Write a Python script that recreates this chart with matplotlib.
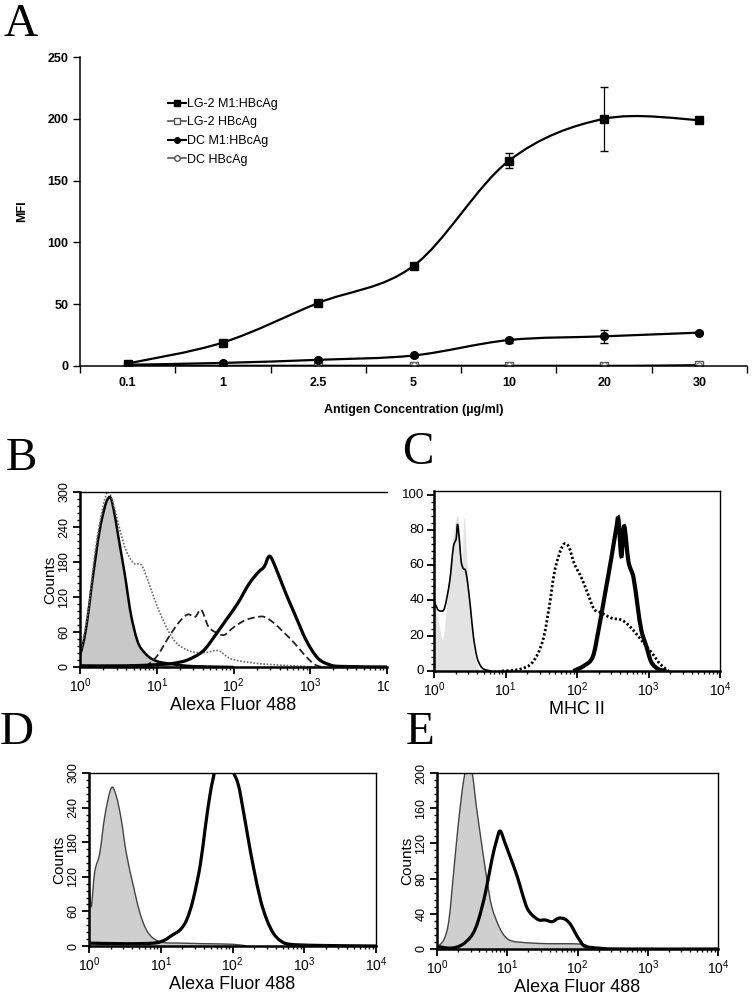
import matplotlib
matplotlib.use("Agg")
import matplotlib.pyplot as plt
import numpy as np
from matplotlib.path import Path
from matplotlib.patches import PathPatch
from matplotlib.lines import Line2D
from matplotlib.ticker import AutoMinorLocator, FixedLocator
from matplotlib.transforms import Bbox, TransformedBbox

plt.rcParams['font.family'] = ['Liberation Sans', 'DejaVu Sans']
plt.rcParams['mathtext.fontset'] = 'custom'
plt.rcParams['mathtext.rm'] = 'Liberation Sans'
plt.rcParams['mathtext.it'] = 'Liberation Sans:italic'
plt.rcParams['mathtext.bf'] = 'Liberation Sans:bold'

# ---------- panel A data ----------
conc_labels = ['0.1', '1', '2.5', '5', '10', '20', '30']
lg2_m1 = [2, 19, 51, 81, 166, 200, 199]
lg2_m1_err = [1, 1.5, 1.5, 2, 6, 26, 2]
lg2_hbc = [0, 0, 0, 0, 0, 0, 1]
dc_m1 = [1, 2.5, 5, 8.5, 21, 24, 27]
dc_m1_err = [0.5, 0.5, 1, 1, 2, 5, 1.5]
dc_hbc = [0.5, 0.5, 0.5, 0.5, 0.5, 0.5, 0.5]

# ---------- flow data (x as log10 of intensity, y counts) ----------
b_iso_x = [0.0, 0.05, 0.1, 0.15, 0.2, 0.25, 0.3, 0.35, 0.4, 0.45, 0.5, 0.55, 0.6, 0.65, 0.7, 0.75, 0.8, 0.9, 1.0, 1.1, 1.25, 1.4, 1.6, 2.0]
b_iso_y = [20, 45, 85, 137, 185, 230, 262, 285, 290, 262, 223, 185, 145, 100, 68, 44, 31, 17, 10, 7, 4, 2, 1, 0]
b_pos_x = [0.0, 0.6, 1.0, 1.2, 1.4, 1.6, 1.75, 1.9, 2.05, 2.2, 2.32, 2.4, 2.47, 2.55, 2.67, 2.8, 2.95, 3.1, 3.25, 3.4, 4.0]
b_pos_y = [2, 2, 4, 6, 12, 27, 52, 80, 108, 142, 162, 172, 190, 170, 130, 90, 45, 15, 4, 1, 0]
b_dot_x = [0.0, 0.1, 0.2, 0.3, 0.37, 0.45, 0.52, 0.6, 0.7, 0.8, 0.88, 0.96, 1.05, 1.15, 1.25, 1.38, 1.5, 1.65, 1.8, 1.95, 2.1, 2.4, 2.8, 3.2, 4.0]
b_dot_y = [20, 90, 200, 275, 300, 272, 235, 200, 178, 175, 150, 120, 90, 62, 42, 30, 25, 25, 28, 15, 10, 5, 2, 0, 0]
b_dash_x = [0.85, 1.0, 1.15, 1.28, 1.4, 1.5, 1.58, 1.67, 1.76, 1.88, 2.0, 2.15, 2.28, 2.4, 2.52, 2.65, 2.8, 2.93, 3.05, 3.15]
b_dash_y = [0, 18, 50, 75, 90, 86, 98, 70, 60, 55, 68, 80, 85, 86, 76, 60, 40, 20, 5, 0]

c_iso_x = [0.0, 0.06, 0.13, 0.2, 0.27, 0.33, 0.36, 0.39, 0.43, 0.47, 0.52, 0.58, 0.64]
c_iso_y = [42, 30, 18, 45, 75, 88, 80, 60, 87, 60, 30, 8, 0]
c_thin_x = [0.0, 0.05, 0.1, 0.15, 0.22, 0.27, 0.31, 0.33, 0.36, 0.38, 0.41, 0.44, 0.47, 0.51, 0.55, 0.6, 0.65, 0.7, 0.8]
c_thin_y = [40, 35, 34, 36, 51, 70, 75, 83, 72, 62, 58, 57, 50, 36, 20, 8, 3, 1, 0]
c_dot_x = [0.95, 1.2, 1.38, 1.52, 1.61, 1.68, 1.75, 1.82, 1.89, 1.96, 2.06, 2.15, 2.24, 2.34, 2.48, 2.62, 2.72, 2.83, 2.97, 3.07, 3.16, 3.28]
c_dot_y = [0, 1, 5, 17, 36, 55, 66, 72, 70, 61, 53, 44, 35, 33, 30, 29, 26, 21, 14, 9, 4, 0]
c_pos_x = [1.95, 2.1, 2.22, 2.3, 2.38, 2.48, 2.55, 2.58, 2.62, 2.66, 2.72, 2.79, 2.85, 2.9, 2.97, 3.04, 3.14, 3.25]
c_pos_y = [0, 3, 8, 23, 41, 64, 81, 86, 65, 82, 62, 53, 36, 23, 14, 5, 1, 0]

d_iso_x = [0.0, 0.03, 0.08, 0.15, 0.22, 0.31, 0.38, 0.45, 0.52, 0.62, 0.71, 0.8, 0.9, 1.04, 1.3, 1.6, 2.0, 2.2]
d_iso_y = [120, 68, 129, 161, 225, 274, 260, 219, 161, 103, 57, 28, 13, 6, 5, 4, 3, 0]
d_pos_x = [0.0, 0.5, 0.9, 1.05, 1.15, 1.27, 1.36, 1.45, 1.55, 1.62, 1.69, 1.76, 1.82, 1.9, 1.99, 2.08, 2.15, 2.22, 2.29, 2.39, 2.48, 2.57, 2.67, 2.8, 3.2, 4.0]
d_pos_y = [5, 4, 5, 10, 18, 28, 45, 80, 140, 205, 265, 305, 310, 310, 305, 280, 235, 185, 138, 80, 45, 22, 9, 3, 1, 0]

e_iso_x = [0.0, 0.1, 0.17, 0.24, 0.31, 0.38, 0.43, 0.5, 0.56, 0.64, 0.71, 0.78, 0.88, 0.97, 1.07, 1.3, 1.6, 1.9, 2.1, 2.2]
e_iso_y = [2, 11, 33, 90, 147, 192, 205, 200, 162, 117, 79, 48, 26, 14, 9, 7, 6, 6, 5, 0]
e_pos_x = [0.0, 0.2, 0.36, 0.5, 0.59, 0.69, 0.78, 0.85, 0.9, 0.97, 1.04, 1.14, 1.21, 1.28, 1.35, 1.45, 1.54, 1.64, 1.73, 1.82, 1.9, 1.97, 2.04, 2.11, 2.3, 2.6, 4.0]
e_pos_y = [3, 1, 5, 16, 33, 64, 101, 124, 134, 120, 105, 83, 64, 47, 39, 33, 33, 31, 35, 34, 28, 18, 9, 3, 1, 0, 0]

W, H = 754, 998
fig = plt.figure(figsize=(W / 100, H / 100), dpi=100)


def add_ax(l, t, r, b):
    return fig.add_axes([l / W, 1 - b / H, (r - l) / W, (b - t) / H])


def smooth(xs, ys, logx=False):
    # Excel-style smoothed curve through the points (cubic bezier segments)
    p = np.column_stack([xs, ys]).astype(float)
    n = len(p)
    verts = [p[0]]
    codes = [Path.MOVETO]
    for i in range(n - 1):
        a, b, c, d = p[max(i - 1, 0)], p[i], p[i + 1], p[min(i + 2, n - 1)]
        verts += [b + (c - a) / 6, c - (d - b) / 6, c]
        codes += [Path.CURVE4] * 3
    verts = np.array(verts)
    if logx:
        verts[:, 0] = 10 ** verts[:, 0]
    return verts, codes


def curve(ax, xs, ys, **kw):
    v, c = smooth(xs, ys, logx=True)
    ax.add_patch(PathPatch(Path(v, c), fill=False, **kw))


def filled(ax, xs, ys, color, **kw):
    v, c = smooth(xs, ys, logx=True)
    v = np.vstack([v, [v[-1, 0], 0], [v[0, 0], 0], [v[0, 0], 0]])
    c = list(c) + [Path.LINETO, Path.LINETO, Path.CLOSEPOLY]
    ax.add_patch(PathPatch(Path(v, c), facecolor=color, edgecolor='none', lw=0))
    if kw:
        curve(ax, xs, ys, **kw)


def flow_axes(ax, ymax, ystep, rot, xlabel, ylabel=None, yfs=9):
    ax.set_xscale('log')
    ax.set_xlim(1, 1e4)
    ax.set_ylim(0, ymax)
    ax.set_xticks([1, 10, 100, 1000, 10000])
    ax.set_xticklabels([r'$\mathregular{10^{%d}}$' % k for k in range(5)], fontsize=10)
    ax.set_yticks(np.arange(0, ymax + 1, ystep))
    ax.yaxis.set_minor_locator(AutoMinorLocator(5))
    for lab in ax.get_yticklabels():
        lab.set_rotation(rot)
        lab.set_va('center')
        lab.set_fontsize(yfs)
    ax.tick_params(which='major', direction='out', length=5, width=1.3, pad=2)
    ax.tick_params(which='minor', direction='out', length=2.5, width=1.0)
    for s in ['left', 'bottom']:
        ax.spines[s].set_linewidth(1.8)
    for s in ['top', 'right']:
        ax.spines[s].set_linewidth(1.0)
    ax.set_xlabel(xlabel, fontsize=13, labelpad=1)
    if ylabel:
        ax.set_ylabel(ylabel, fontsize=11, labelpad=1)


# ---------------- Panel A ----------------
axA = add_ax(80, 57, 747, 366)
idx = np.arange(len(conc_labels))
for vals, lw in [(lg2_hbc, 1.0), (dc_hbc, 1.0), (dc_m1, 1.6), (lg2_m1, 1.6)]:
    v, c = smooth(idx, vals)
    axA.add_patch(PathPatch(Path(v, c), fill=False, lw=lw, edgecolor='black'))
axA.errorbar(idx, lg2_m1, yerr=lg2_m1_err, fmt='none', ecolor='black', elinewidth=0.9, capsize=3)
axA.errorbar(idx, dc_m1, yerr=dc_m1_err, fmt='none', ecolor='black', elinewidth=0.9, capsize=3)
axA.plot(idx, lg2_hbc, ls='none', marker='s', ms=6, mfc='white', mec='#555555', mew=1)
axA.plot(idx, dc_hbc, ls='none', marker='o', ms=4, mfc='white', mec='#777777', mew=0.8)
axA.plot(idx, dc_m1, ls='none', marker='o', ms=5.5, color='black')
axA.plot(idx, lg2_m1, ls='none', marker='s', ms=6, color='black')
axA.set_xlim(-0.5, 6.5)
axA.set_ylim(0, 250)
axA.set_yticks(np.arange(0, 251, 50))
axA.set_xticks(idx)
axA.set_xticklabels(conc_labels, fontsize=9, fontweight='bold')
axA.xaxis.set_minor_locator(FixedLocator(np.arange(-0.5, 6.6, 1)))
axA.tick_params(axis='x', which='major', length=0, pad=8)
axA.tick_params(axis='x', which='minor', length=5, width=1)
axA.tick_params(axis='y', length=5, width=1, labelsize=9)
for lab in axA.get_yticklabels():
    lab.set_fontweight('bold')
for s in ['top', 'right']:
    axA.spines[s].set_visible(False)
for s in ['left', 'bottom']:
    axA.spines[s].set_linewidth(1.1)
axA.set_xlabel('Antigen Concentration (µg/ml)', fontsize=9, fontweight='bold', labelpad=11)
axA.set_ylabel('MFI', fontsize=9, fontweight='bold', labelpad=14)

handles = [
    Line2D([], [], color='black', lw=1.5, marker='s', ms=5),
    Line2D([], [], color='#555555', lw=1.2, marker='s', ms=5, mfc='white'),
    Line2D([], [], color='black', lw=1.5, marker='o', ms=4),
    Line2D([], [], color='#555555', lw=1.2, marker='o', ms=4, mfc='white'),
]
names = ['LG-2 M1:HBcAg', 'LG-2 HBcAg', 'DC M1:HBcAg', 'DC HBcAg']
fig.legend(handles, names, loc='upper left', bbox_to_anchor=(168 / W, 1 - 98 / H),
           frameon=False, fontsize=9, handlelength=1.4, handletextpad=0.1,
           labelspacing=0.52, borderpad=0, borderaxespad=0)

# ---------------- Panel B ----------------
axB = add_ax(80, 492, 387, 667)
filled(axB, b_iso_x, b_iso_y, '#c8c8c8', edgecolor='black', lw=1.8)
curve(axB, b_dot_x, b_dot_y, edgecolor='#6a6a6a', lw=1.2, linestyle=(0, (1, 1)))
curve(axB, b_dash_x, b_dash_y, edgecolor='#222222', lw=1.3, linestyle=(0, (4, 2)))
curve(axB, b_pos_x, b_pos_y, edgecolor='black', lw=2.3)
flow_axes(axB, 300, 60, 90, 'Alexa Fluor 488', 'Counts')
axB.spines['right'].set_visible(False)
clip = TransformedBbox(Bbox([[0, 0], [389 / W, 1]]), fig.transFigure)
for lab in axB.get_xticklabels():
    lab.set_clip_box(clip)
    lab.set_clip_on(True)

# ---------------- Panel C ----------------
axC = add_ax(434, 491, 720, 671)
filled(axC, c_iso_x, c_iso_y, '#e3e3e3')
curve(axC, c_thin_x, c_thin_y, edgecolor='black', lw=1.2)
curve(axC, c_dot_x, c_dot_y, edgecolor='black', lw=2.0, linestyle=(0, (0.8, 0.8)))
curve(axC, c_pos_x, c_pos_y, edgecolor='black', lw=3.0)
flow_axes(axC, 102, 20, 0, 'MHC II', yfs=9.5)
axC.set_yticks(np.arange(0, 101, 20))
for lab in axC.get_yticklabels():
    lab.set_fontsize(9.5)

# ---------------- Panel D ----------------
axD = add_ax(89, 773, 376, 946)
filled(axD, d_iso_x, d_iso_y, '#cfcfcf', edgecolor='#444444', lw=1.0)
curve(axD, d_pos_x, d_pos_y, edgecolor='black', lw=2.3)
flow_axes(axD, 300, 60, 90, 'Alexa Fluor 488', 'Counts')

# ---------------- Panel E ----------------
axE = add_ax(437, 773, 718, 949)
filled(axE, e_iso_x, e_iso_y, '#cfcfcf', edgecolor='#444444', lw=1.0)
curve(axE, e_pos_x, e_pos_y, edgecolor='black', lw=2.3)
flow_axes(axE, 200, 40, 90, 'Alexa Fluor 488', 'Counts')

# panel letters
for letter, x, y in [('A', 4, 3), ('B', 6, 437), ('C', 402, 432), ('D', 0, 711), ('E', 406, 711)]:
    fig.text(x / W, 1 - y / H, letter, family='Liberation Serif', fontsize=34,
             ha='left', va='top')

fig.savefig('out.png', dpi=100)
